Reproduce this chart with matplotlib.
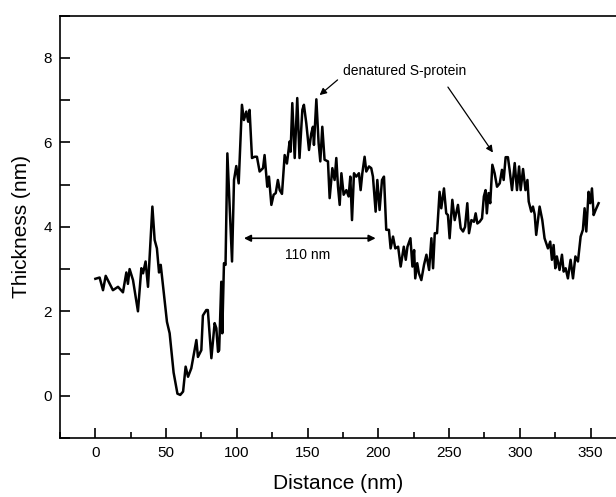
import matplotlib.pyplot as plt
from matplotlib.ticker import MultipleLocator

plt.rcParams['font.family'] = ['Liberation Sans', 'DejaVu Sans']

# Height profile
distance = [0, 3, 5.4, 7.3, 12.4, 16, 19.5, 21.9, 23, 24.2, 26.6, 30.1, 32.5, 33.7,
            35.5, 37.2, 40.3, 41.9, 43.5, 45, 46.2, 50.6, 52.5, 55.3, 58, 60, 62,
            63.8, 65.5, 67.8, 71.4, 72.5, 74.9, 76, 78.4, 79.5, 82, 84.3, 85.5,
            86.7, 87.5, 89, 89.7, 90.9, 92, 93.3, 96.6, 98, 99.6, 101.3, 103.6,
            105, 106.7, 108, 109, 110.7, 112.6, 114.2, 116.1, 118.5, 119.6, 121.5,
            122.7, 124.4, 126, 127.5, 129, 130.3, 131.9, 133.8, 135.4, 137.3, 138,
            139.2, 140.9, 142.7, 144.3, 146.3, 147.4, 149.1, 151, 152.6, 153.8,
            154.5, 156.2, 157.8, 159, 160.4, 162, 164.4, 165.6, 167.5, 169.1,
            170.3, 171.5, 172.7, 173.9, 175.5, 177.4, 179, 180.2, 181.4, 182.8,
            184.4, 186.3, 187.5, 188.7, 190.3, 191.5, 193.4, 195, 196.2, 198.1,
            199.3, 200.9, 202.6, 204, 205.6, 207.5, 208.7, 210.4, 212, 214, 215.8,
            218, 219.4, 220.6, 222.7, 224.1, 225.3, 226.1, 227.5, 228.7, 230.4,
            232.3, 234, 235.9, 237.5, 238.7, 239.9, 241.5, 243.3, 244.5, 246.4,
            248, 249.2, 250.4, 252.3, 254, 256.3, 258.2, 259.9, 261.3, 262.9,
            264.1, 265.8, 267.6, 268.8, 270, 271.6, 273.3, 274.6, 275.8, 276.7,
            277.9, 279.1, 280.6, 282.2, 283.9, 285.8, 287.4, 288.6, 290, 291.6,
            292.8, 294.5, 296.4, 298, 299.5, 300.6, 302.3, 304, 305.4, 306.3,
            308.1, 309.3, 310.5, 311.6, 314, 315.9, 317.5, 319.9, 321.5, 322.7,
            323.9, 325.1, 326.2, 328.1, 329.8, 331, 332.4, 334, 335.9, 337.6,
            339.3, 341.1, 343, 344.6, 345.8, 347, 348.6, 349.8, 351, 352.2,
            353.6, 355.7]
thickness = [2.77, 2.8, 2.5, 2.84, 2.5, 2.58, 2.45, 2.92, 2.65, 3.0, 2.74, 2.0, 3.02,
             2.9, 3.18, 2.58, 4.48, 3.69, 3.49, 2.92, 3.1, 1.75, 1.48, 0.55, 0.05,
             0.02, 0.1, 0.69, 0.45, 0.65, 1.32, 0.92, 1.08, 1.9, 2.03, 2.03, 0.89,
             1.72, 1.6, 1.04, 1.08, 2.7, 1.48, 3.14, 3.1, 5.74, 3.18, 5.11, 5.44,
             5.03, 6.89, 6.53, 6.73, 6.49, 6.77, 5.63, 5.66, 5.66, 5.31, 5.39, 5.7,
             4.95, 5.19, 4.52, 4.76, 4.8, 5.11, 4.87, 4.78, 5.7, 5.5, 6.02, 5.78,
             6.93, 5.63, 7.05, 5.63, 6.77, 6.89, 6.45, 5.82, 6.21, 6.37, 5.94,
             7.02, 5.98, 5.55, 6.37, 5.59, 5.55, 4.68, 5.39, 5.11, 5.63, 4.95,
             4.52, 5.27, 4.76, 4.87, 4.72, 5.19, 4.16, 5.27, 5.19, 5.27, 4.87,
             5.27, 5.66, 5.31, 5.43, 5.39, 5.19, 4.36, 5.11, 4.4, 5.11, 5.19,
             3.93, 3.93, 3.49, 3.77, 3.49, 3.53, 3.06, 3.53, 3.22, 3.53, 3.73,
             3.06, 3.45, 2.78, 3.14, 2.9, 2.74, 3.1, 3.34, 2.98, 3.73, 3.02, 3.85,
             3.85, 4.83, 4.44, 4.91, 4.32, 4.28, 3.73, 4.64, 4.16, 4.52, 3.97,
             3.89, 4.0, 4.56, 3.85, 4.16, 4.12, 4.32, 4.08, 4.12, 4.2, 4.72, 4.87,
             4.32, 4.8, 4.56, 5.47, 5.27, 4.95, 5.03, 5.35, 5.11, 5.65, 5.65,
             5.35, 4.87, 5.51, 4.87, 5.43, 4.87, 5.37, 4.87, 5.11, 4.6, 4.36,
             4.48, 4.3, 3.81, 4.48, 4.16, 3.73, 3.49, 3.65, 3.22, 3.57, 3.02, 3.3,
             2.98, 3.34, 2.94, 3.02, 2.78, 3.22, 2.78, 3.3, 3.18, 3.77, 3.93,
             4.44, 3.89, 4.83, 4.56, 4.91, 4.28, 4.4, 4.56]

fig = plt.figure(figsize=(6.16, 4.97), dpi=100)
ax = fig.add_axes([0.0974, 0.1187, 0.9026, 0.8497])

ax.plot(distance, thickness, color='black', linewidth=1.8)

ax.set_xlim(-25, 368)
ax.set_ylim(-1, 9)
ax.xaxis.set_major_locator(MultipleLocator(50))
ax.xaxis.set_minor_locator(MultipleLocator(25))
ax.yaxis.set_major_locator(MultipleLocator(2))
ax.yaxis.set_minor_locator(MultipleLocator(1))
ax.tick_params(which='both', direction='in', top=False, right=False,
               labelsize=11, width=1.2, pad=6)
ax.tick_params(axis='x', which='major', length=7)
ax.tick_params(axis='x', which='minor', length=4)
ax.tick_params(axis='y', which='both', length=7)
ax.spines['right'].set_visible(False)
for s in ['left', 'bottom', 'top']:
    ax.spines[s].set_linewidth(1.2)

ax.set_xlabel('Distance (nm)', fontsize=15, labelpad=10)
ax.set_ylabel('Thickness (nm)', fontsize=15, labelpad=9)

# annotations
ax.text(218.6, 7.7, 'denatured S-protein', fontsize=10, ha='center', va='center')
ax.annotate('', xy=(158.5, 7.12), xytext=(171.2, 7.48),
            arrowprops=dict(arrowstyle='-|>', color='black', lw=0.9,
                            mutation_scale=10, shrinkA=0, shrinkB=0))
ax.annotate('', xy=(281, 5.76), xytext=(249.2, 7.31),
            arrowprops=dict(arrowstyle='-|>', color='black', lw=0.9,
                            mutation_scale=10, shrinkA=0, shrinkB=0))
ax.annotate('', xy=(105, 3.73), xytext=(198.1, 3.73),
            arrowprops=dict(arrowstyle='<|-|>', color='black', lw=1.2,
                            mutation_scale=10, shrinkA=0, shrinkB=0))
ax.text(150, 3.33, '110 nm', fontsize=10, ha='center', va='center')

fig.savefig('out.png', dpi=100)
